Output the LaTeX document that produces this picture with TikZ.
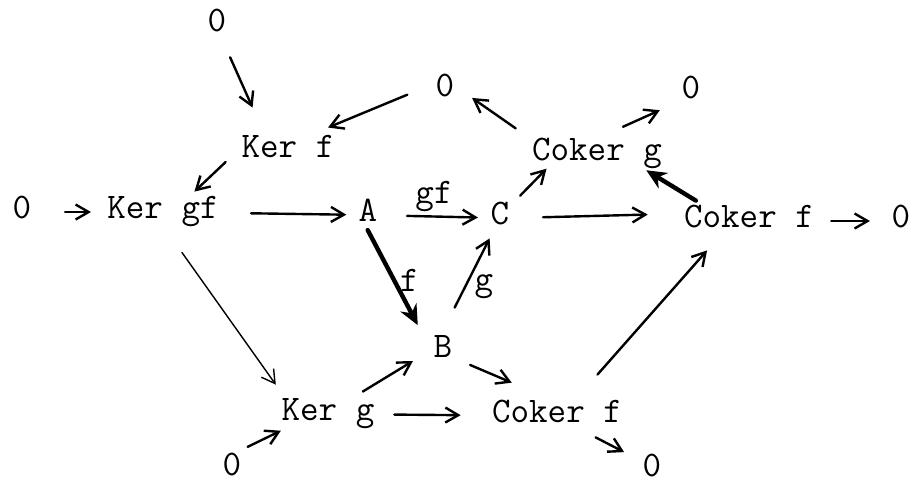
\documentclass[tikz,border=0pt]{standalone}
\usetikzlibrary{arrows.meta}

\begin{document}
\begin{tikzpicture}[x=0.5pt, y=-0.5pt,
  obj/.style={font=\ttfamily\fontsize{18}{20}\selectfont, inner sep=2pt, text height=11pt, text depth=5pt},
  low obj/.style={obj, text depth=0pt},
  lbl/.style={font=\ttfamily\fontsize{18}{20}\selectfont, inner sep=2pt},
  map/.style={-{Straight Barb[length=6.5pt,width=7.5pt]}, line width=1.2pt, line cap=round},
  thin map/.style={map, line width=0.7pt},
  heavy map/.style={-{Stealth[length=10pt,width=9pt]}, line width=2.2pt, line cap=round}]
\useasboundingbox (0,0) rectangle (916,479);

\node[obj] (zt) at (217,25) {0};
\node[obj] (zm) at (445,90) {0};
\node[obj] (zrt) at (691,92) {0};
\node[obj] (kerf) at (288,151) {Ker f};
\node[obj] (cokerg) at (597,154) {Coker g};
\node[obj] (zl) at (22,212) {0};
\node[obj] (kergf) at (163,212) {Ker gf};
\node[obj] (A) at (368,215) {A};
\node[obj] (C) at (500,218) {C};
\node[obj] (cokerfr) at (749,221) {Coker f};
\node[obj] (zr) at (901,221) {0};
\node[obj] (B) at (443,351) {B};
\node[obj] (kerg) at (328,414) {Ker g};
\node[obj] (cokerfb) at (557,416) {Coker f};
\node[low obj] (zbl) at (232,464) {0};
\node[low obj] (zbr) at (652,465) {0};

\draw[map, shorten <=6.5pt, shorten >=12.6pt] (zt.-69) -- (kerf.141);
\draw[map, shorten <=13pt, shorten >=4pt] (zm.159) -- (kerf.32);
\draw[map, shorten <=8pt] (kerf.west) -- (kergf.33);
\draw[map, shorten <=14.7pt, shorten >=6pt] (zl) -- (kergf);
\draw[map, shorten <=14pt, shorten >=4pt] (kergf) -- (A);
\draw[map, shorten <=12.7pt, shorten >=4.2pt] (A) -- node[lbl, above] {gf} (C);
\draw[map, shorten <=14.7pt, shorten >=16pt] (C.east) -- (cokerfr.174);
\draw[map, shorten <=6.5pt, shorten >=8.7pt] (cokerfr) -- (zr);

\draw[map, shorten <=4.6pt, shorten >=-4pt] (C.49) -- (cokerg.-160);
\draw[map, shorten <=7.3pt, shorten >=8.2pt] (cokerg.166) -- (zm.6);
\draw[map, shorten <=8.3pt, shorten >=9.6pt] (cokerg.62) -- (zrt.-143);
\draw[heavy map, shorten >=-4pt] (cokerfr.159) -- (cokerg.-20);

\draw[heavy map, shorten <=-3pt, shorten >=12.4pt] (A.-83) -- node[lbl, pos=.4, right] {f} (B.164);
\draw[map, shorten <=12.9pt] (B.north) -- node[lbl, pos=.48, right=2pt] {g} (C.-117);

\draw[thin map, shorten <=12.3pt, shorten >=5.5pt] (kergf.-77) -- (kerg.156);
\draw[map, shorten <=2pt, shorten >=-2pt] (zbl.52) -- (kerg.-160);
\draw[map, shorten <=2pt, shorten >=9.6pt] (kerg.33) -- (B.west);
\draw[map, shorten <=7.8pt, shorten >=13.5pt] (kerg) -- (cokerfb);
\draw[map, shorten <=7.3pt, shorten >=16.5pt] (B.-31) -- (cokerfb.126);
\draw[map, shorten <=14pt, shorten >=6pt] (cokerfb.43) -- (cokerfr.-149);
\draw[map, shorten <=1pt, shorten >=8pt] (cokerfb.-29) -- (zbr.158);
\end{tikzpicture}
\end{document}
